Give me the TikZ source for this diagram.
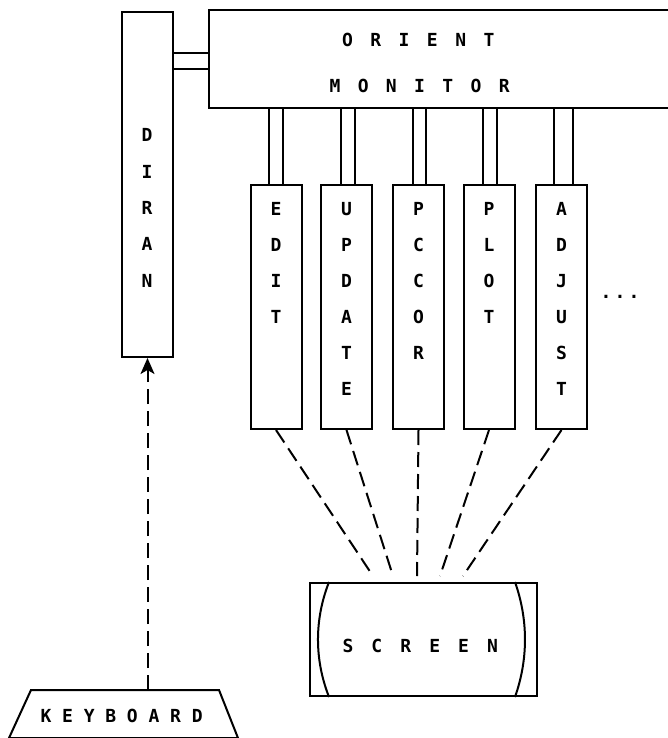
\documentclass[tikz,border=0pt]{standalone}
\usepackage{fontspec}
\newfontfamily\typew{DejaVu Sans Mono}
\usetikzlibrary{calc,arrows.meta}

\begin{document}
\begin{tikzpicture}[x=1pt,y=-1pt,line width=2pt,
  lbl/.style={font=\typew\bfseries\fontsize{18}{20}\selectfont,inner sep=0,anchor=base},
  modbox/.style={draw,minimum width=51pt,minimum height=244pt,inner sep=0},
  ray/.style={dash pattern=on 15pt off 7pt}]
\useasboundingbox (0,0) rectangle (667,738);
% main blocks
\node[draw,minimum width=51pt,minimum height=345pt,inner sep=0] (diran) at (147.5,184.5) {};
\node[minimum width=457pt,minimum height=96pt,inner sep=0] (mon) at (438.5,59) {};
\draw (mon.north east) -- (mon.north west) -- (mon.south west) -- (mon.south east);
\draw (diran.east |- 0,53) -- (mon.west |- 0,53);
\draw (diran.east |- 0,69) -- (mon.west |- 0,69);
\foreach \c [count=\i from 0] in {O,R,I,E,N,T}
  \node[lbl] (ori-\i) at (347.5+28.3*\i,47) {\c};
\foreach \c [count=\i from 0] in {M,O,N,I,T,O,R}
  \node[lbl] (mnt-\i) at (335+28.2*\i,93) {\c};
\foreach \c [count=\i from 0] in {D,I,R,A,N}
  \node[lbl] (dir-\i) at (147,142+36.3*\i) {\c};
% modules
\foreach \n/\x/\l/\r/\w in {edit/276/269/283/{E,D,I,T},
  update/346.5/341/355/{U,P,D,A,T,E}, pccor/418.5/413/426/{P,C,C,O,R},
  plot/489/483/497/{P,L,O,T}, adjust/561.5/554/573/{A,D,J,U,S,T}}{
\node[modbox] (\n) at (\x,307) {};
\draw (\n.north -| \l,0) -- (mon.south -| \l,0);
\draw (\n.north -| \r,0) -- (mon.south -| \r,0);
\foreach \c [count=\i from 0] in \w {
\node[lbl] (\n-\i) at (\x,215+36*\i) {\c};
}}
\foreach \i in {0,1,2}
  \node[lbl] (dot-\i) at (606+14*\i,298) {.};
% screen
\node[draw,minimum width=227pt,minimum height=113pt,inner sep=0] (scr) at (423.5,639.5) {};
\draw ($(scr.north west)+(20,0)$) .. controls +(-14.7,37.7) and +(-14.7,-37.7) .. ($(scr.south west)+(20,0)$);
\draw ($(scr.north east)+(-23,0)$) .. controls +(13.3,37.7) and +(13.3,-37.7) .. ($(scr.south east)+(-23,0)$);
\foreach \c [count=\i from 0] in {S,C,R,E,E,N}
  \node[lbl] (scr-\i) at (348+28.9*\i,652) {\c};
\foreach \n/\dx in {edit/-50.5,update/-30.5,pccor/-6.5,plot/16.5,adjust/39.5}{
\coordinate (\n-end) at ($(scr.north)+(\dx,-6)$);
\draw[ray] (\n.south) -- (\n-end);
}
% keyboard
\node[minimum width=186pt,minimum height=46pt,inner sep=0] (kbd) at (125,714) {};
\draw (kbd.north west) -- (kbd.north east) -- ($(kbd.south east)+(19,0)$)
  -- ($(kbd.south west)+(-22,0)$) -- cycle;
\foreach \c [count=\i from 0] in {K,E,Y,B,O,A,R,D}
  \node[lbl] (kbd-\i) at (46+21.6*\i,722) {\c};
\draw[ray,-{Stealth[length=16pt,width=14pt,inset=4pt]}] (kbd.north -| diran.south) -- (diran.south);
\end{tikzpicture}
\end{document}
